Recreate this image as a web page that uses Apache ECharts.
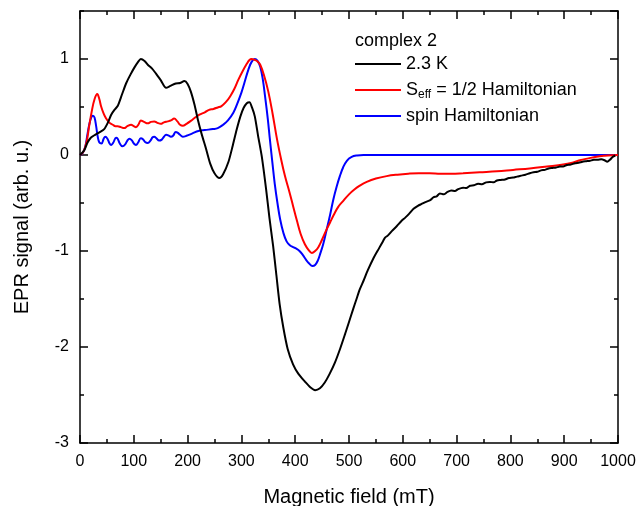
<!DOCTYPE html>
<html><head><meta charset="utf-8">
<script src="https://cdn.jsdelivr.net/npm/echarts@6/dist/echarts.min.js"></script>
<style>html,body{margin:0;padding:0;background:#fff}#c{width:641px;height:506px}</style>
</head><body><div id="c"></div>
<script>
const seriesNames = ['2.3 K', 'S_eff = 1/2 Hamiltonian', 'spin Hamiltonian'];
const legendTitle = 'complex 2';
const xTicks = [0,100,200,300,400,500,600,700,800,900,1000];
const yTicks = [-3,-2,-1,0,1];

const exp23K = [[0,0],[8,0.05],[14,0.13],[20,0.18],[28,0.21],[36,0.235],[45,0.27],[52,0.34],[58,0.42],[64,0.47],[70,0.51],[78,0.63],[86,0.75],[94,0.84],[101,0.91],[108,0.97],[113,1.0],[120,0.98],[126,0.94],[134,0.90],[141,0.85],[150,0.78],[160,0.70],[168,0.72],[178,0.745],[186,0.75],[194,0.77],[200,0.74],[206,0.66],[213,0.52],[219,0.37],[226,0.22],[234,0.07],[242,-0.09],[250,-0.19],[259,-0.24],[266,-0.20],[276,-0.07],[284,0.10],[291,0.26],[298,0.40],[304,0.49],[310,0.54],[315,0.55],[320,0.49],[325,0.40],[331,0.20],[338,-0.02],[346,-0.36],[352,-0.65],[359,-0.95],[365,-1.25],[371,-1.55],[378,-1.80],[386,-2.02],[396,-2.18],[406,-2.28],[418,-2.36],[428,-2.42],[437,-2.45],[446,-2.43],[455,-2.37],[464,-2.28],[474,-2.16],[484,-2.01],[493,-1.86],[500,-1.74],[508,-1.60],[514,-1.50],[520,-1.40],[527,-1.31],[535,-1.20],[545,-1.08],[556,-0.97],[563,-0.90],[567,-0.86],[572,-0.84],[580,-0.79],[589,-0.74],[597,-0.69],[605,-0.65],[612,-0.61],[620,-0.56],[628,-0.53],[635,-0.51],[642,-0.49],[651,-0.47],[657,-0.44],[663,-0.43],[669,-0.40],[676,-0.41],[683,-0.385],[690,-0.37],[697,-0.375],[703,-0.355],[712,-0.34],[718,-0.345],[725,-0.32],[732,-0.315],[740,-0.30],[747,-0.305],[755,-0.285],[762,-0.28],[769,-0.285],[775,-0.265],[782,-0.26],[790,-0.255],[797,-0.24],[805,-0.235],[812,-0.225],[820,-0.215],[828,-0.205],[836,-0.19],[843,-0.18],[850,-0.175],[857,-0.16],[864,-0.155],[871,-0.14],[878,-0.135],[885,-0.13],[892,-0.12],[898,-0.12],[905,-0.105],[912,-0.10],[920,-0.085],[927,-0.08],[934,-0.07],[941,-0.065],[948,-0.06],[955,-0.05],[962,-0.05],[969,-0.045],[975,-0.055],[980,-0.07],[985,-0.05],[990,-0.02],[995,-0.005]];

const seffHam = [[0,0],[6,0.03],[12,0.13],[17,0.30],[22,0.46],[27,0.58],[32,0.635],[36,0.58],[39,0.51],[44,0.43],[48,0.385],[54,0.34],[61,0.315],[66,0.30],[70,0.30],[76,0.29],[82,0.28],[88,0.30],[95,0.315],[100,0.30],[104,0.29],[109,0.32],[113,0.36],[119,0.345],[126,0.33],[132,0.345],[138,0.35],[144,0.335],[150,0.325],[156,0.34],[163,0.35],[169,0.36],[175,0.38],[181,0.35],[186,0.315],[191,0.305],[198,0.325],[206,0.355],[214,0.39],[222,0.42],[232,0.445],[240,0.47],[248,0.48],[256,0.495],[263,0.51],[271,0.55],[279,0.61],[287,0.69],[294,0.78],[302,0.87],[310,0.95],[315,0.99],[319,1.0],[325,0.99],[330,0.975],[335,0.94],[342,0.83],[350,0.66],[358,0.43],[366,0.17],[374,-0.05],[381,-0.22],[389,-0.38],[396,-0.53],[403,-0.68],[410,-0.82],[418,-0.93],[425,-0.99],[431,-1.02],[437,-1.0],[443,-0.96],[450,-0.88],[458,-0.78],[465,-0.70],[472,-0.62],[480,-0.54],[489,-0.48],[500,-0.41],[510,-0.36],[520,-0.32],[533,-0.28],[550,-0.245],[570,-0.22],[590,-0.205],[610,-0.195],[630,-0.19],[650,-0.19],[670,-0.195],[690,-0.195],[712,-0.19],[743,-0.18],[775,-0.17],[805,-0.155],[836,-0.14],[868,-0.12],[898,-0.10],[915,-0.08],[929,-0.055],[945,-0.035],[960,-0.018],[975,-0.008],[990,-0.002],[1000,0]];

const spinHam = [[0,0],[5,0.02],[10,0.09],[14,0.22],[19,0.36],[24,0.41],[27,0.39],[30,0.30],[33,0.19],[36,0.13],[40,0.12],[44,0.17],[47,0.19],[51,0.17],[55,0.12],[58,0.105],[62,0.13],[67,0.18],[70,0.17],[74,0.12],[79,0.09],[84,0.11],[88,0.15],[92,0.17],[96,0.155],[100,0.12],[104,0.105],[108,0.13],[113,0.175],[117,0.165],[121,0.135],[126,0.125],[131,0.15],[135,0.185],[138,0.19],[142,0.175],[147,0.15],[152,0.16],[156,0.19],[160,0.21],[164,0.205],[169,0.19],[173,0.20],[178,0.24],[182,0.23],[186,0.21],[191,0.19],[198,0.20],[209,0.225],[220,0.25],[232,0.26],[247,0.27],[256,0.28],[266,0.315],[275,0.36],[285,0.44],[292,0.53],[300,0.65],[306,0.76],[313,0.89],[319,0.97],[325,1.0],[330,0.98],[335,0.92],[340,0.78],[344,0.61],[349,0.38],[353,0.16],[358,-0.10],[362,-0.30],[367,-0.50],[372,-0.67],[378,-0.81],[384,-0.90],[390,-0.94],[396,-0.96],[402,-0.975],[408,-1.0],[414,-1.04],[420,-1.09],[426,-1.13],[432,-1.155],[437,-1.145],[442,-1.10],[447,-1.02],[452,-0.93],[458,-0.79],[465,-0.62],[471,-0.46],[477,-0.33],[483,-0.22],[489,-0.13],[496,-0.06],[505,-0.02],[515,-0.005],[527,0],[600,0],[700,0],[800,0],[900,0],[1000,0]];

const chart = echarts.init(document.getElementById('c'), null, {renderer:'canvas'});
const FONT = 'Liberation Sans, Arial, sans-serif';
const lineStyleAxis = {color:'#000', width:1.5};
function xAx(pos, labels, interval, len, showLine) {
  return {type:'value', position:pos, min:0, max:1000, interval:interval,
    axisLine:{show:showLine, onZero:false, lineStyle:lineStyleAxis},
    axisTick:{show:true, inside:true, length:len, lineStyle:{color:'#000', width:1.5}},
    axisLabel:{show:labels, color:'#000', fontSize:16, fontFamily:FONT, margin:11, formatter:function(v){return String(v);}},
    splitLine:{show:false},
    name: labels ? 'Magnetic field (mT)' : '', nameLocation:'middle', nameGap:44,
    nameTextStyle:{color:'#000', fontSize:20, fontFamily:FONT}};
}
function yAx(pos, labels, interval, len, showLine) {
  return {type:'value', position:pos, min:-3, max:1.5, interval:interval,
    axisLine:{show:showLine, onZero:false, lineStyle:lineStyleAxis},
    axisTick:{show:true, inside:true, length:len, lineStyle:{color:'#000', width:1.5}},
    axisLabel:{show:labels, color:'#000', fontSize:16, fontFamily:FONT, margin:11, showMaxLabel:false},
    splitLine:{show:false},
    name: labels ? 'EPR signal (arb. u.)' : '', nameLocation:'middle', nameGap:48,
    nameTextStyle:{color:'#000', fontSize:20, fontFamily:FONT}};
}
const colors = ['#000000','#ff0000','#0000ff'];
const datas = [exp23K, seffHam, spinHam];
chart.setOption({
  animation:false,
  backgroundColor:'#fff',
  grid:{left:80, right:23, top:11, bottom:63, containLabel:false, outerBoundsMode:'none'},
  xAxis:[xAx('bottom',true,100,8,true), xAx('bottom',false,50,4,false), xAx('top',false,100,8,true), xAx('top',false,50,4,false)],
  yAxis:[yAx('left',true,1,8,true), yAx('left',false,0.5,4,false), yAx('right',false,1,8,true), yAx('right',false,0.5,4,false)],
  legend:{
    show:true, orient:'vertical', left:350, top:50, itemWidth:46, itemHeight:2, itemGap:6,
    icon:'rect', data:seriesNames, padding:5,
    formatter:function(n){ if(n==='S_eff = 1/2 Hamiltonian') return '{a|S}{b|eff}{a| = 1/2 Hamiltonian}'; return '{a|'+n+'}'; },
    textStyle:{color:'#000', fontFamily:FONT, fontSize:18,
      rich:{a:{fontSize:18, fontFamily:FONT, color:'#000', lineHeight:22}, b:{fontSize:12, fontFamily:FONT, color:'#000', padding:[10,0,0,0], lineHeight:22}}}
  },
  graphic:[{type:'text', left:355, top:32, style:{text:legendTitle, font:'18px '+FONT, fill:'#000'}}],
  series: datas.map((d,i)=>({
    name:seriesNames[i], type:'line', data:d, xAxisIndex:0, yAxisIndex:0,
    showSymbol:false, symbol:'none', smooth: i===0 ? 0.25 : 0.4,
    lineStyle:{color:colors[i], width:2}, itemStyle:{color:colors[i]}, z: 3-i
  }))
});
</script></body></html>
